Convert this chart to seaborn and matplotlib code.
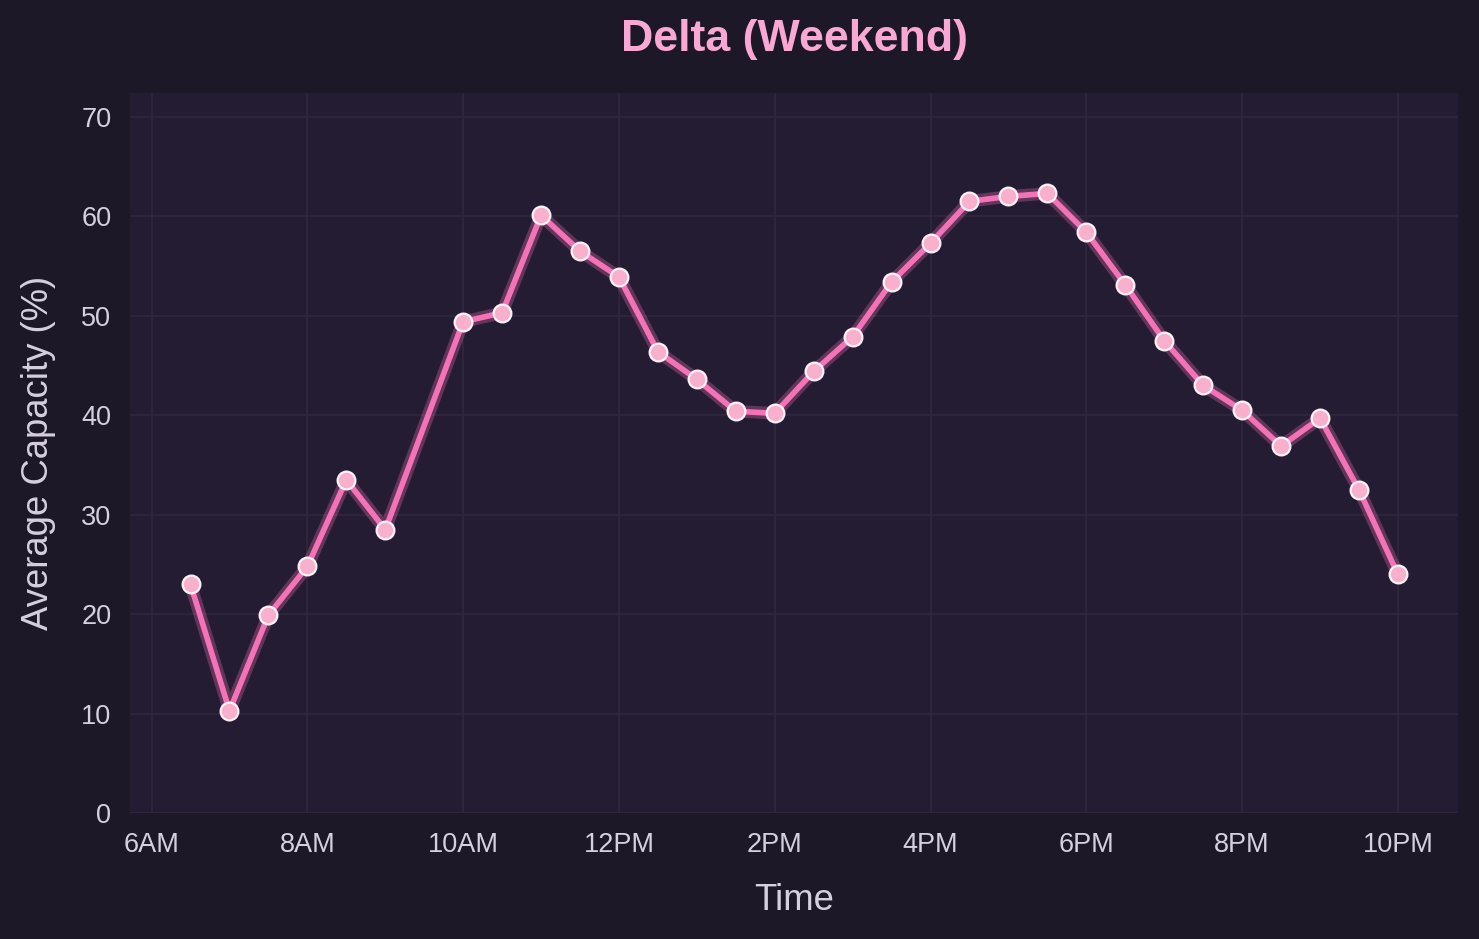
import pandas as pd
import matplotlib
matplotlib.use("Agg")
import matplotlib.pyplot as plt
import seaborn as sns

# half-hour slots (9:30 has no reading)
hours = [6.5, 7.0, 7.5, 8.0, 8.5, 9.0, 10.0, 10.5, 11.0, 11.5, 12.0, 12.5,
         13.0, 13.5, 14.0, 14.5, 15.0, 15.5, 16.0, 16.5, 17.0, 17.5, 18.0,
         18.5, 19.0, 19.5, 20.0, 20.5, 21.0, 21.5, 22.0]
capacity = [23.0, 10.3, 19.9, 24.8, 33.5, 28.5, 49.4, 50.3, 60.1, 56.5, 53.9,
            46.4, 43.6, 40.4, 40.2, 44.4, 47.9, 53.4, 57.3, 61.5, 62.0, 62.3,
            58.4, 53.1, 47.5, 43.0, 40.5, 36.9, 39.7, 32.5, 24.0]
tick_hours = [6, 8, 10, 12, 14, 16, 18, 20, 22]
tick_labels = ["6AM", "8AM", "10AM", "12PM", "2PM", "4PM", "6PM", "8PM", "10PM"]

FIG_BG = "#1c1828"
AX_BG = "#241c33"
LINE = "#f472b6"
DOT = "#f8b0cc"
TEXT = "#d6cfe0"

df = pd.DataFrame({"hour": hours, "capacity": capacity})

sns.set_theme(style="darkgrid")
plt.rcParams["font.family"] = ["Liberation Sans", "DejaVu Sans"]

fig, ax = plt.subplots(figsize=(9.86, 6.26), dpi=150)
fig.patch.set_facecolor(FIG_BG)
ax.set_facecolor(AX_BG)
fig.subplots_adjust(left=0.088, right=0.986, top=0.901, bottom=0.134)

# soft glow under the line
sns.lineplot(data=df, x="hour", y="capacity", ax=ax, color=LINE,
             linewidth=6, alpha=0.3, zorder=2)
sns.lineplot(data=df, x="hour", y="capacity", ax=ax, color=LINE,
             linewidth=2.7, zorder=3)
sns.scatterplot(data=df, x="hour", y="capacity", ax=ax, color=DOT,
                s=72, edgecolor="#fdf0f5", linewidth=1.1, zorder=4)

ax.set_ylim(0, 72.4)
ax.set_xticks(tick_hours)
ax.set_xticklabels(tick_labels)
ax.set_yticks(range(0, 71, 10))
ax.tick_params(colors=TEXT, labelsize=13, length=0, pad=9)
ax.grid(True, color="#30283f", linewidth=0.8)
for s in ax.spines.values():
    s.set_visible(False)

ax.set_title("Delta (Weekend)", color="#f9a8d4", fontsize=21.5,
             fontweight="bold", pad=20)
ax.set_xlabel("Time", color=TEXT, fontsize=17.5, labelpad=12)
ax.set_ylabel("Average Capacity (%)", color=TEXT, fontsize=17.5, labelpad=12)

fig.savefig("out.png", dpi=150, facecolor=FIG_BG)
